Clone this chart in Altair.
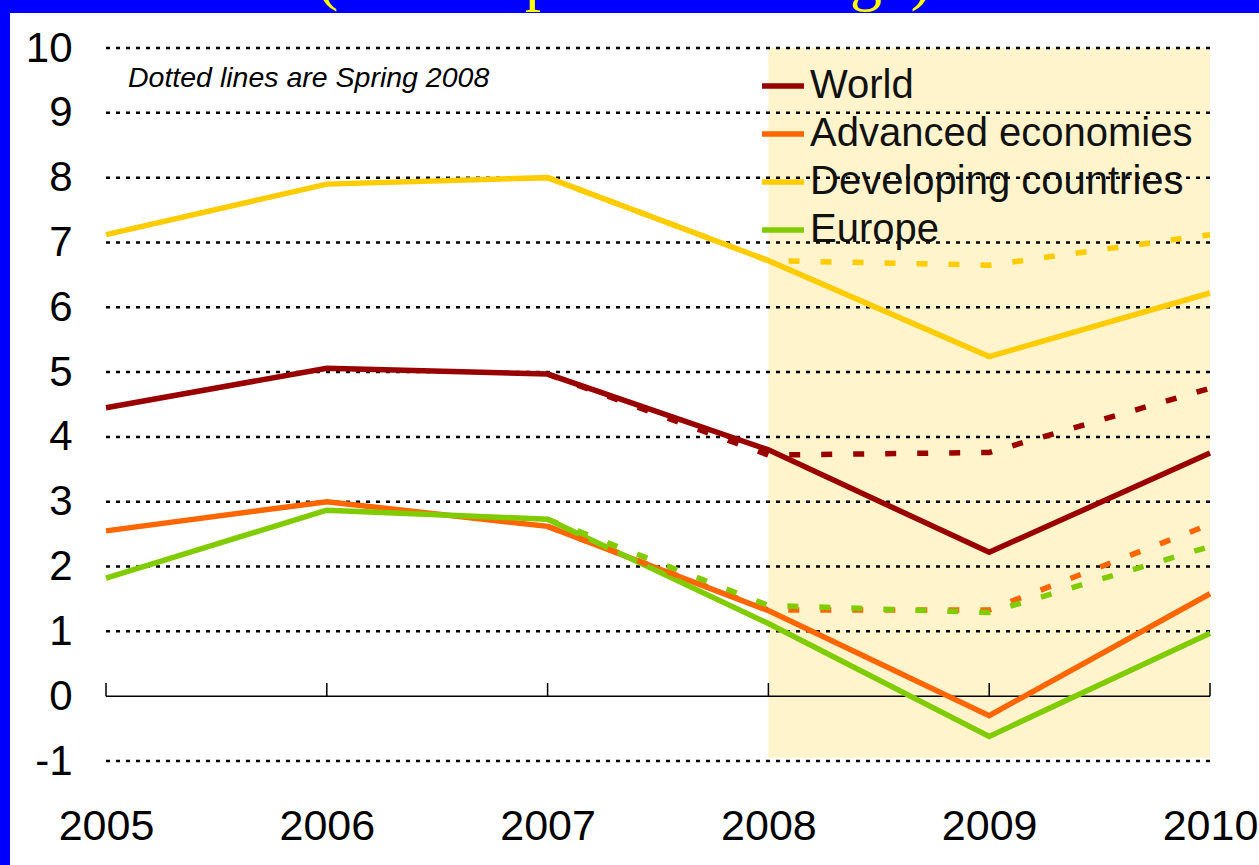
import altair as alt
import pandas as pd

# ---- data ----
years = [2005, 2006, 2007, 2008, 2009, 2010]
series = ["World", "Advanced economies", "Developing countries", "Europe"]
colors = ["#990000", "#FF6600", "#FFCC00", "#80CC00"]

world = [4.45, 5.06, 4.97, 3.80, 2.22, 3.75]
advanced = [2.55, 3.00, 2.62, 1.32, -0.30, 1.58]
developing = [7.12, 7.90, 8.00, 6.72, 5.24, 6.22]
europe = [1.82, 2.87, 2.73, 1.12, -0.62, 0.97]

spring_years = [2007, 2008, 2009, 2010]
world_spring = [4.97, 3.72, 3.76, 4.75]
advanced_spring = [2.62, 1.33, 1.33, 2.65]
developing_spring = [8.00, 6.72, 6.65, 7.12]
europe_spring = [2.73, 1.40, 1.29, 2.31]

grid_levels = [-1, 1, 2, 3, 4, 5, 6, 7, 8, 9, 10]
y_ticks = [-1, 0, 1, 2, 3, 4, 5, 6, 7, 8, 9, 10]
forecast_start, forecast_end = 2008, 2010
note = "Dotted lines are Spring 2008"
slide_title = "(annual percent change)"

# ---- tables ----
rows = []
for name, vals in zip(series, [world, advanced, developing, europe]):
    for yr, v in zip(years, vals):
        rows.append({"year": yr, "value": v, "series": name})
solid = pd.DataFrame(rows)

rows = []
for name, vals in zip(series, [world_spring, advanced_spring, developing_spring, europe_spring]):
    for yr, v in zip(spring_years, vals):
        rows.append({"year": yr, "value": v, "series": name})
dotted = pd.DataFrame(rows)

grid_df = pd.DataFrame({"level": grid_levels})
years_df = pd.DataFrame({"year": years})
shade_df = pd.DataFrame({"x": [forecast_start], "x2": [forecast_end], "y": [10], "y2": [-0.95]})
one = pd.DataFrame({"a": [0]})

W, H = 1104, 713
FONT = "Liberation Sans"

xs = alt.Scale(domain=[2005, 2010], nice=False, zero=False)
ys = alt.Scale(domain=[-1, 10], nice=False, zero=False)
cs = alt.Scale(domain=series, range=colors)

xaxis = alt.Axis(values=years, format="d", grid=False, domain=False, ticks=False, title=None,
                 labelFontSize=43, labelFont=FONT, labelColor="black", zindex=1,
                 labelPadding=44, labelOverlap=False, labelFlush=False)
yaxis = alt.Axis(values=y_ticks, grid=False, domain=False, ticks=False, title=None,
                 labelFontSize=42, labelFont=FONT, labelColor="black", zindex=1,
                 labelExpr="'' + datum.value",
                 labelPadding=34, labelOverlap=False)

# white slide area over blue background
white = alt.Chart(one).mark_rect(color="white").encode(
    x=alt.value(-96), x2=alt.value(W + 49), y=alt.value(-35), y2=alt.value(H + 104)
)

title_txt = alt.Chart(pd.DataFrame({"t": [slide_title]})).mark_text(
    font="Liberation Serif", fontSize=64, color="#FFFF00", align="left", baseline="alphabetic"
).encode(text="t:N", x=alt.value(211), y=alt.value(-50))

shade = alt.Chart(shade_df).mark_rect(color="#FFF4CC").encode(
    x=alt.X("x:Q", scale=xs, axis=xaxis),
    x2="x2:Q",
    y=alt.Y("y:Q", scale=ys, axis=yaxis),
    y2="y2:Q",
)

grid = alt.Chart(grid_df).mark_rule(color="black", strokeWidth=2.5, strokeDash=[4, 6]).encode(
    y=alt.Y("level:Q", scale=ys, axis=yaxis),
    x=alt.value(0),
    x2=alt.value(W),
)

zero_line = alt.Chart(one).mark_rule(color="black", strokeWidth=1.5).encode(
    y=alt.Y(datum=0, scale=ys, axis=yaxis),
    x=alt.value(0),
    x2=alt.value(W),
)

ticks = alt.Chart(years_df).mark_rule(color="black", strokeWidth=1.5).encode(
    x=alt.X("year:Q", scale=xs, axis=xaxis),
    y=alt.Y(datum=0, scale=ys, axis=yaxis),
    y2=alt.value(635),
)

solid_lines = alt.Chart(solid).mark_line(strokeWidth=5.5, strokeCap="butt").encode(
    x=alt.X("year:Q", scale=xs, axis=xaxis),
    y=alt.Y("value:Q", scale=ys, axis=yaxis),
    color=alt.Color(
        "series:N", scale=cs, sort=series,
        legend=alt.Legend(title=None, orient="none", legendX=653, legendY=14,
                          symbolType="stroke", symbolSize=1764, symbolStrokeWidth=5.5,
                          labelFontSize=40, labelFont=FONT, labelColor="#111111",
                          labelOffset=3, rowPadding=4, padding=0, labelLimit=600),
    ),
    order=alt.Order("year:Q"),
)

dotted_lines = alt.Chart(dotted).mark_line(strokeWidth=5.5, strokeDash=[11, 21], strokeCap="butt").encode(
    x=alt.X("year:Q", scale=xs, axis=xaxis),
    y=alt.Y("value:Q", scale=ys, axis=yaxis),
    color=alt.Color("series:N", scale=cs, sort=series),
    order=alt.Order("year:Q"),
)

note_txt = alt.Chart(pd.DataFrame({"t": [note]})).mark_text(
    font=FONT, fontSize=28.5, fontStyle="italic", color="black", align="left", baseline="alphabetic"
).encode(text="t:N", x=alt.value(22), y=alt.value(39))

chart = alt.layer(
    white, title_txt, shade, grid, zero_line, ticks, solid_lines, dotted_lines, note_txt
).properties(
    width=W, height=H,
    background="#0000FF",
    padding={"left": 106, "top": 48, "right": 49, "bottom": 104},
    autosize=alt.AutoSizeParams(type="none"),
).configure_view(strokeWidth=0)

chart.save("out.html", embed_options={"renderer": "svg", "actions": False})
